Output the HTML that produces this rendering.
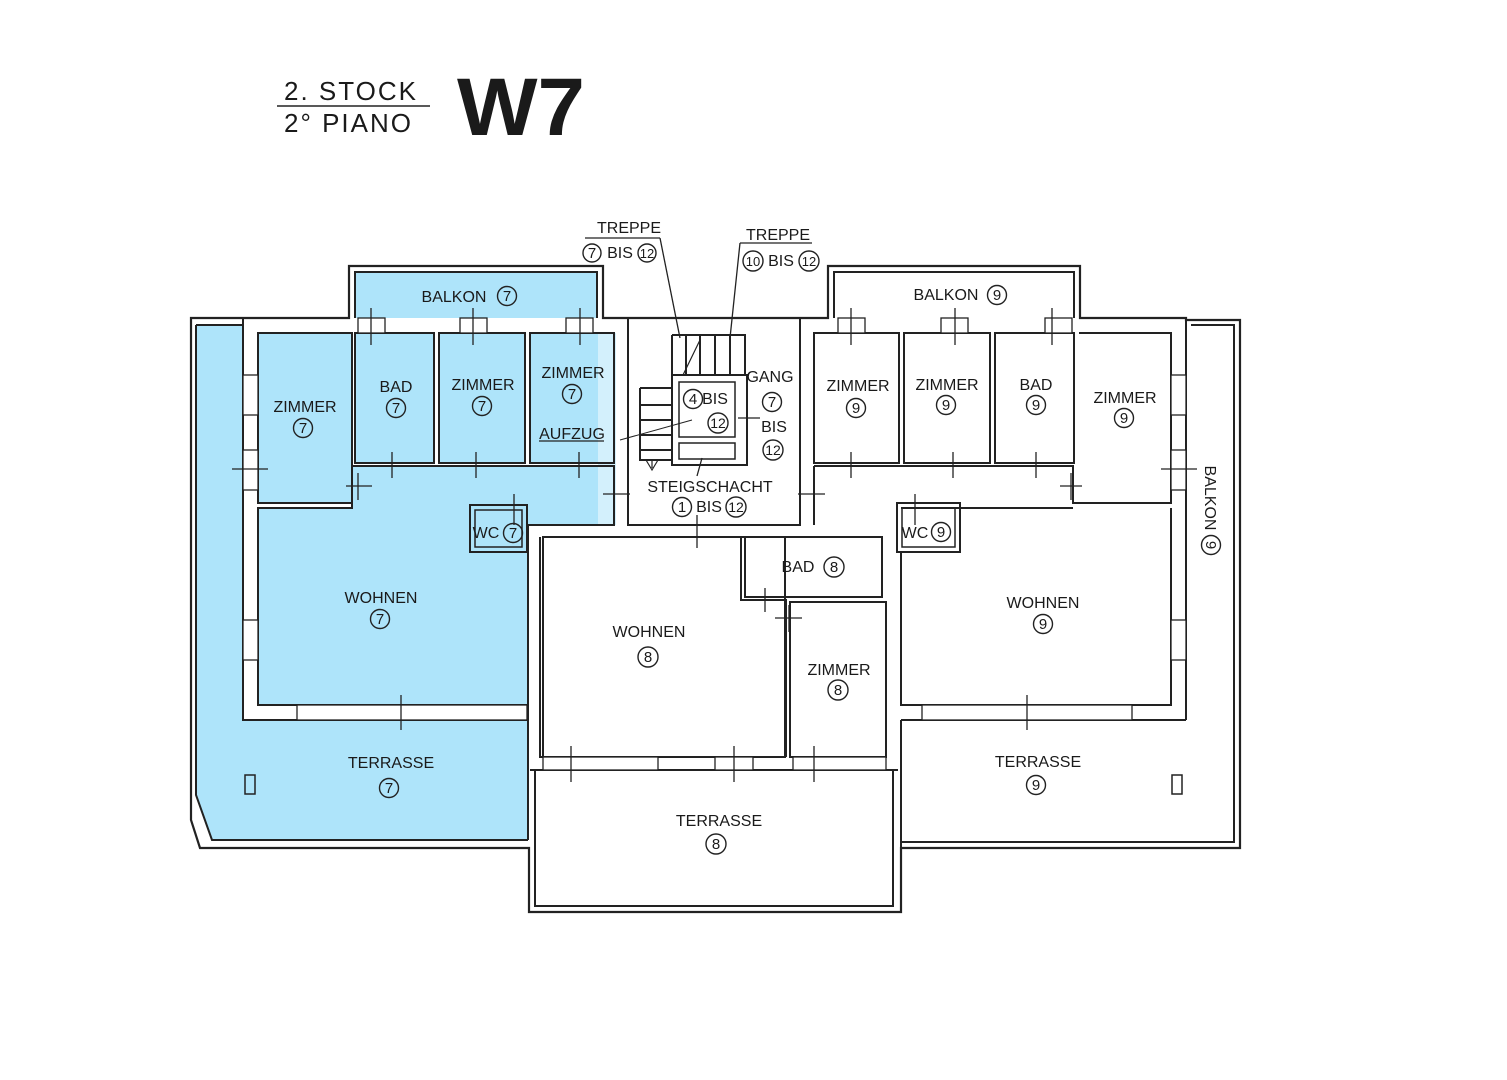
<!DOCTYPE html>
<html><head><meta charset="utf-8"><style>
html,body{margin:0;padding:0;background:#fff}
svg{display:block}
text{font-family:"Liberation Sans",sans-serif;fill:#1a1a1a}
.l{font-size:16px;text-anchor:middle}
.n{font-size:15px;text-anchor:middle}
</style></head><body>
<svg width="1507" height="1080" viewBox="0 0 1507 1080" xmlns="http://www.w3.org/2000/svg">
<rect width="1507" height="1080" fill="#fff"/>
<!-- title -->
<text x="284" y="100" style="font-size:26px;letter-spacing:2px">2.  STOCK</text>
<line x1="277" y1="106" x2="430" y2="106" stroke="#222" stroke-width="1.5"/>
<text x="284" y="132" style="font-size:26px;letter-spacing:2px">2°  PIANO</text>
<text x="457" y="135" style="font-size:82px;font-weight:bold" textLength="128" lengthAdjust="spacingAndGlyphs">W7</text>

<!-- blue areas -->
<g fill="#aee4fa">
<path d="M196 325 H243 V720 H528 V840 H212 L196 795 Z"/>
<rect x="355" y="272" width="242" height="46"/>
<rect x="258" y="333" width="94" height="170"/>
<rect x="355" y="333" width="79" height="130"/>
<rect x="439" y="333" width="86" height="130"/>
<rect x="530" y="333" width="84" height="130"/>
<rect x="352" y="466" width="262" height="59"/>
<rect x="258" y="508" width="270" height="197"/>
</g>
<rect x="598" y="333" width="18" height="192" fill="#d3f0fc"/>

<g fill="none" stroke="#222" stroke-width="2">
<path d="M191 318 H349 V266 H603 V318 H828 V266 H1080 V318 H1186 V320 H1240 V848 H901 V912 H529 V848 H200 L191 820 Z" stroke-width="2.2"/>
<path d="M196 325 H243 M196 325 V795 L212 840 H528"/>
<path d="M355 318 V272 H597 V318"/>
<path d="M834 318 V272 H1074 V318"/>
<path d="M1186 320 V720 M1191 325 H1234 V842 H901"/>
<path d="M243 318 V720 H528"/>
<rect x="258" y="333" width="94" height="170"/>
<rect x="355" y="333" width="79" height="130"/>
<rect x="439" y="333" width="86" height="130"/>
<rect x="530" y="333" width="84" height="130"/>
<path d="M258 508 H352 V466 H614 V525 H528 V705 H258 Z"/>
<rect x="470" y="505" width="57" height="47"/>
<rect x="475" y="510" width="47" height="37" stroke-width="1.5"/>
<path d="M528 525 V840"/>
<path d="M628 318 V525 H800 V318"/>
<rect x="543" y="537" width="242" height="220"/>
<path d="M543 757 H540 V537"/>
<rect x="745" y="537" width="137" height="60"/>
<rect x="790" y="602" width="96" height="155"/>
<path d="M741 537 V600 H786 V757"/>
<rect x="535" y="770" width="358" height="136"/>
<path d="M530 770 H898"/>
<path d="M640 388 H672 V335 M672 388 V460 M640 388 V460 H672 M640 405 H672 M640 420 H672 M640 435 H672 M640 450 H672"/>
<path d="M672 335 H745 V375 H672 M686 335 V375 M700 335 V375 M715 335 V375 M730 335 V375"/>
<rect x="672" y="375" width="75" height="90"/>
<rect x="679" y="382" width="56" height="55" stroke-width="1.5"/>
<rect x="679" y="443" width="56" height="16" stroke-width="1.5"/>
<path d="M652 460 V468 M646 460 L652 470 L658 460" stroke-width="1.2"/>
<path d="M683 375 L700 340" stroke-width="1.2"/>
<rect x="814" y="333" width="85" height="130"/>
<rect x="904" y="333" width="86" height="130"/>
<rect x="995" y="333" width="79" height="130"/>
<path d="M1079 333 H1171 V503 H1073 V466 H814"/>
<path d="M814 466 V525"/>
<path d="M901 508 H1073 M1171 508 V705 H901 V552"/>
<rect x="897" y="503" width="63" height="49"/>
<rect x="902" y="508" width="53" height="39" stroke-width="1.5"/>
<path d="M901 720 H1186 M901 720 V848"/>
<rect x="1172" y="775" width="10" height="19" stroke-width="1.5"/>
<rect x="245" y="775" width="10" height="19" stroke-width="1.5"/>
</g>

<g stroke="#222" stroke-width="1.3" fill="#fff">
<rect x="358" y="318" width="27" height="15"/><rect x="460" y="318" width="27" height="15"/><rect x="566" y="318" width="27" height="15"/>
<rect x="838" y="318" width="27" height="15"/><rect x="941" y="318" width="27" height="15"/><rect x="1045" y="318" width="27" height="15"/>
<rect x="243" y="375" width="15" height="40"/><rect x="243" y="450" width="15" height="40"/><rect x="243" y="620" width="15" height="40"/>
<rect x="1171" y="375" width="15" height="40"/><rect x="1171" y="450" width="15" height="40"/><rect x="1171" y="620" width="15" height="40"/>
<rect x="297" y="705" width="230" height="15"/><rect x="922" y="705" width="210" height="15"/>
<rect x="543" y="757" width="115" height="13"/><rect x="715" y="757" width="38" height="13"/><rect x="793" y="757" width="93" height="13"/>
</g>
<g stroke="#222" stroke-width="1.3">
<line x1="371" y1="308" x2="371" y2="345"/><line x1="473" y1="308" x2="473" y2="345"/><line x1="580" y1="308" x2="580" y2="345"/>
<line x1="851" y1="308" x2="851" y2="345"/><line x1="955" y1="308" x2="955" y2="345"/><line x1="1052" y1="308" x2="1052" y2="345"/>
<line x1="232" y1="469" x2="268" y2="469"/><line x1="346" y1="486" x2="372" y2="486"/><line x1="358" y1="473" x2="358" y2="500"/>
<line x1="392" y1="452" x2="392" y2="478"/><line x1="476" y1="452" x2="476" y2="478"/><line x1="579" y1="452" x2="579" y2="478"/>
<line x1="514" y1="494" x2="514" y2="525"/><line x1="401" y1="695" x2="401" y2="730"/>
<line x1="851" y1="452" x2="851" y2="478"/><line x1="953" y1="452" x2="953" y2="478"/><line x1="1036" y1="452" x2="1036" y2="478"/>
<line x1="1060" y1="486" x2="1082" y2="486"/><line x1="1071" y1="473" x2="1071" y2="500"/><line x1="1161" y1="469" x2="1197" y2="469"/>
<line x1="915" y1="494" x2="915" y2="525"/><line x1="1027" y1="695" x2="1027" y2="730"/>
<line x1="603" y1="494" x2="630" y2="494"/><line x1="798" y1="494" x2="825" y2="494"/><line x1="697" y1="515" x2="697" y2="548"/>
<line x1="571" y1="746" x2="571" y2="782"/><line x1="734" y1="746" x2="734" y2="782"/><line x1="814" y1="746" x2="814" y2="782"/>
<line x1="765" y1="588" x2="765" y2="612"/><line x1="775" y1="618" x2="802" y2="618"/><line x1="789" y1="605" x2="789" y2="632"/>
<line x1="702" y1="458" x2="697" y2="476"/><line x1="620" y1="440" x2="692" y2="420" stroke-width="1"/><line x1="738" y1="418" x2="760" y2="418"/>
<line x1="585" y1="238" x2="660" y2="238"/><line x1="660" y1="238" x2="680" y2="338"/>
<line x1="740" y1="243" x2="812" y2="243"/><line x1="740" y1="243" x2="730" y2="338"/>
<line x1="539" y1="441" x2="604" y2="441"/>
</g>

<g fill="none" stroke="#222" stroke-width="1.4">
<circle cx="507" cy="296" r="9.5"/><circle cx="303" cy="428" r="9.5"/><circle cx="396" cy="408" r="9.5"/><circle cx="482" cy="406" r="9.5"/><circle cx="572" cy="394" r="9.5"/>
<circle cx="513" cy="533" r="9.5"/><circle cx="380" cy="619" r="9.5"/><circle cx="389" cy="788" r="9.5"/>
<circle cx="592" cy="253" r="9"/><circle cx="647" cy="253" r="9"/><circle cx="753" cy="261" r="10"/><circle cx="809" cy="261" r="10"/>
<circle cx="693" cy="399" r="9.5"/><circle cx="718" cy="423" r="10"/><circle cx="772" cy="402" r="9.5"/><circle cx="773" cy="450" r="10"/>
<circle cx="682" cy="507" r="9.5"/><circle cx="736" cy="507" r="10"/>
<circle cx="648" cy="657" r="10"/><circle cx="834" cy="567" r="10"/><circle cx="838" cy="690" r="10"/><circle cx="716" cy="844" r="10"/>
<circle cx="997" cy="295" r="9.5"/><circle cx="856" cy="408" r="9.5"/><circle cx="946" cy="405" r="9.5"/><circle cx="1036" cy="405" r="9.5"/><circle cx="1124" cy="418" r="9.5"/>
<circle cx="941" cy="532" r="9.5"/><circle cx="1043" cy="624" r="9.5"/><circle cx="1036" cy="785" r="9.5"/><circle cx="1211" cy="545" r="9.5"/>
</g>
<g class="n">
<text x="507" y="301" class="n">7</text><text x="303" y="433" class="n">7</text><text x="396" y="413" class="n">7</text><text x="482" y="411" class="n">7</text><text x="572" y="399" class="n">7</text>
<text x="513" y="538" class="n">7</text><text x="380" y="624" class="n">7</text><text x="389" y="793" class="n">7</text>
<text x="592" y="258" class="n">7</text><text x="647" y="258" class="n" style="font-size:13px">12</text><text x="753" y="266" class="n" style="font-size:13px">10</text><text x="809" y="266" class="n" style="font-size:13px">12</text>
<text x="693" y="404" class="n">4</text><text x="718" y="428" class="n" style="font-size:14px">12</text><text x="772" y="407" class="n">7</text><text x="773" y="455" class="n" style="font-size:14px">12</text>
<text x="682" y="512" class="n">1</text><text x="736" y="512" class="n" style="font-size:14px">12</text>
<text x="648" y="662" class="n">8</text><text x="834" y="572" class="n">8</text><text x="838" y="695" class="n">8</text><text x="716" y="849" class="n">8</text>
<text x="997" y="300" class="n">9</text><text x="856" y="413" class="n">9</text><text x="946" y="410" class="n">9</text><text x="1036" y="410" class="n">9</text><text x="1124" y="423" class="n">9</text>
<text x="941" y="537" class="n">9</text><text x="1043" y="629" class="n">9</text><text x="1036" y="790" class="n">9</text>
<text class="n" transform="translate(1211 545) rotate(90)" y="5">9</text>
</g>
<g class="l">
<text x="454" y="302" class="l">BALKON</text><text x="305" y="412" class="l">ZIMMER</text><text x="396" y="392" class="l">BAD</text><text x="483" y="390" class="l">ZIMMER</text><text x="573" y="378" class="l">ZIMMER</text>
<text x="572" y="439" class="l">AUFZUG</text><text x="486" y="538" class="l">WC</text><text x="381" y="603" class="l">WOHNEN</text><text x="391" y="768" class="l">TERRASSE</text>
<text x="629" y="233" class="l">TREPPE</text><text x="620" y="258" class="l">BIS</text><text x="778" y="240" class="l">TREPPE</text><text x="781" y="266" class="l">BIS</text>
<text x="715" y="404" class="l">BIS</text><text x="770" y="382" class="l">GANG</text><text x="774" y="432" class="l">BIS</text>
<text x="710" y="492" class="l">STEIGSCHACHT</text><text x="709" y="512" class="l">BIS</text>
<text x="649" y="637" class="l">WOHNEN</text><text x="798" y="572" class="l">BAD</text><text x="839" y="675" class="l">ZIMMER</text><text x="719" y="826" class="l">TERRASSE</text>
<text x="946" y="300" class="l">BALKON</text><text x="858" y="391" class="l">ZIMMER</text><text x="947" y="390" class="l">ZIMMER</text><text x="1036" y="390" class="l">BAD</text><text x="1125" y="403" class="l">ZIMMER</text>
<text x="915" y="538" class="l">WC</text><text x="1043" y="608" class="l">WOHNEN</text><text x="1038" y="767" class="l">TERRASSE</text>
<text class="l" transform="translate(1211 498) rotate(90)" y="6">BALKON</text>
</g>
</svg>
</body></html>
